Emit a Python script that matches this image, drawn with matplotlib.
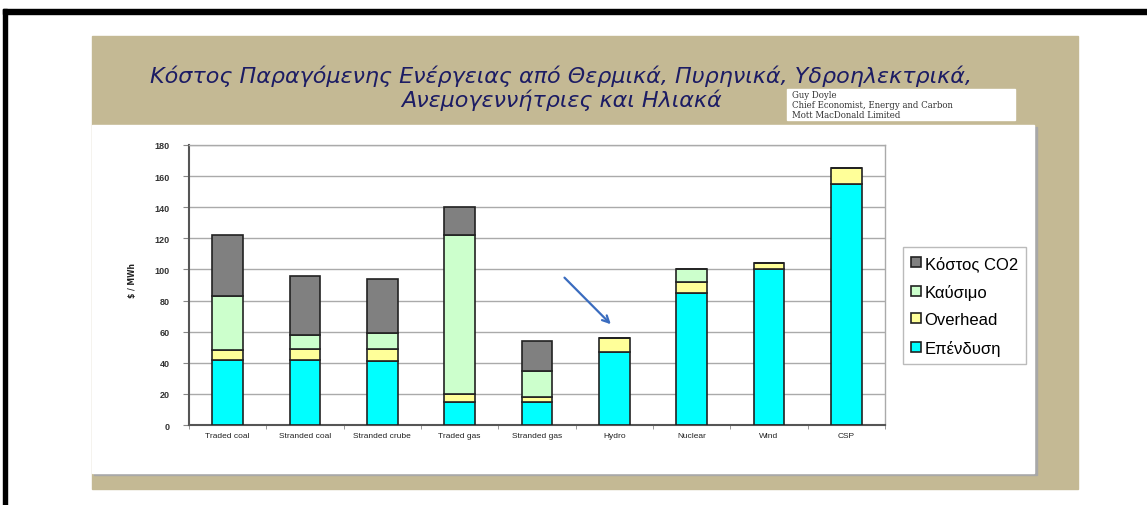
#!/usr/bin/env python3
import matplotlib
matplotlib.use('Agg')
import matplotlib.pyplot as plt
import matplotlib.patches as mpatches
import numpy as np

# data ($ / MWh)
categories = ['Traded coal', 'Stranded coal', 'Stranded crube', 'Traded gas',
              'Stranded gas', 'Hydro', 'Nuclear', 'Wind', 'CSP']
investment = [42, 42, 41, 15, 15, 47, 85, 100, 155]
overhead = [6, 7, 8, 5, 3, 9, 7, 4, 10]
fuel = [35, 9, 10, 102, 17, 0, 8, 0, 0]
co2 = [39, 38, 35, 18, 19, 0, 0, 0, 0]

series_labels = ['Επένδυση', 'Overhead', 'Καύσιμο', 'Κόστος CO2']
series_colors = ['#00ffff', '#ffff99', '#ccffcc', '#808080']
yticks = [0, 20, 40, 60, 80, 100, 120, 140, 160, 180]

W, H = 1147, 506


def rect_px(x0, y0, x1, y1):
    # pixel box (top-left origin) -> figure fraction rect
    return [x0 / W, 1 - y1 / H, (x1 - x0) / W, (y1 - y0) / H]


def add_box(x0, y0, x1, y1, color):
    r = rect_px(x0, y0, x1, y1)
    fig.patches.append(mpatches.Rectangle((r[0], r[1]), r[2], r[3],
                                          transform=fig.transFigure,
                                          color=color, zorder=0))


fig = plt.figure(figsize=(W / 100, H / 100), dpi=100)
fig.patch.set_facecolor('white')

# black frame lines
add_box(3, 10, 7, H, 'black')
add_box(3, 10, W, 15, 'black')

# tan slide background and white chart area
add_box(92, 37, 1078, 490, '#c4b994')
add_box(94, 128, 1037, 476, '#a8a8a8')
add_box(92, 126, 1034, 474, 'white')

# title
title_kw = dict(ha='center', va='center', fontsize=16, style='italic',
                color='#1c1c64', family='DejaVu Sans')
fig.text(561 / W, 1 - 76 / H,
         'Κόστος Παραγόμενης Ενέργειας από Θερμικά, Πυρηνικά, Υδροηλεκτρικά,',
         **title_kw)
fig.text(561 / W, 1 - 100 / H, 'Ανεμογεννήτριες και Ηλιακά', **title_kw)

# author box
add_box(787, 90, 1015, 121, 'white')
fig.text(792 / W, 1 - 105.5 / H,
         'Guy Doyle\nChief Economist, Energy and Carbon\nMott MacDonald Limited',
         ha='left', va='center', fontsize=6.2, family='DejaVu Serif',
         color='#333333', linespacing=1.1)

# main chart
ax = fig.add_axes(rect_px(189, 146, 885, 426))
ax.set_zorder(2)
x = np.arange(len(categories))
bottom = np.zeros(len(categories))
handles = []
for vals, lab, col in zip([investment, overhead, fuel, co2],
                          series_labels, series_colors):
    vals = np.array(vals, dtype=float)
    b = ax.bar(x, vals, 0.4, bottom=bottom, color=col, edgecolor='#222222',
               linewidth=1.2, label=lab, zorder=3)
    handles.append(b)
    bottom += vals

ax.set_xlim(-0.5, len(categories) - 0.5)
ax.set_ylim(0, 180)
ax.set_yticks(yticks)
ax.set_yticklabels([str(t) for t in yticks], fontsize=6.5, fontweight='bold',
                   color='#333333', family='Liberation Sans')
ax.set_xticks(x)
ax.set_xticklabels(categories, fontsize=6, color='#222222',
                   family='Liberation Sans')
ax.tick_params(axis='x', length=0, pad=5)
ax.set_xticks(np.arange(-0.5, len(categories), 1), minor=True)
ax.tick_params(axis='x', which='minor', length=3, color='#888888')
ax.tick_params(axis='y', length=4, color='#888888', pad=10)
ax.yaxis.grid(True, color='#aaaaaa', linewidth=1, zorder=0)
ax.set_axisbelow(True)
for s in ['left', 'bottom']:
    ax.spines[s].set_color('#555555')
    ax.spines[s].set_linewidth(1.5)
for s in ['top', 'right']:
    ax.spines[s].set_color('#aaaaaa')
    ax.spines[s].set_linewidth(1)

fig.text(133 / W, 1 - 280 / H, '$ / MWh', rotation=90, ha='center',
         va='center', fontsize=5.5, fontweight='bold', color='#222222')

# arrow pointing at hydro
ax.annotate('', xy=(4.98, 63.5), xytext=(4.33, 96),
            arrowprops=dict(arrowstyle='->', color='#3a6cbf', lw=1.6,
                            mutation_scale=12), zorder=5)

# legend
lg = fig.legend(handles=handles[::-1], labels=series_labels[::-1],
                loc='upper left', bbox_to_anchor=(903 / W, 1 - 248 / H),
                frameon=True, fancybox=False,
                handlelength=0.55, handleheight=0.55, handletextpad=0.25,
                labelspacing=0.75, borderpad=0.5, borderaxespad=0,
                prop={'family': 'Liberation Sans', 'size': 12})
lg.get_frame().set_edgecolor('#aaaaaa')
lg.get_frame().set_linewidth(1)

plt.savefig('out.png', dpi=100, facecolor=fig.get_facecolor())
plt.close('all')
